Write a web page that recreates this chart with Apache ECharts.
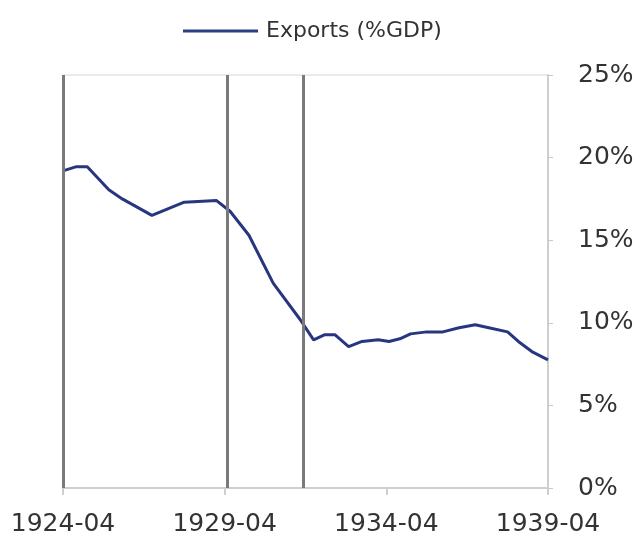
<!DOCTYPE html>
<html>
<head>
<meta charset="utf-8">
<script src="https://cdn.jsdelivr.net/npm/echarts@6/dist/echarts.min.js"></script>
<style>
  html, body { margin: 0; padding: 0; background: #fff; }
  #chart { width: 641px; height: 544px; }
</style>
</head>
<body>
<div id="chart"></div>
<script>
// months counted from the start of the axis
var startYear = 1924, startMonth = 4;
var dates = ["1924-04", "1924-09", "1925-01", "1925-09", "1926-02", "1927-01", "1928-01", "1929-01",
  "1929-06", "1930-01", "1930-10", "1931-08", "1932-01", "1932-05", "1932-09", "1933-02", "1933-07",
  "1934-01", "1934-05", "1934-09", "1935-01", "1935-07", "1936-01", "1936-07", "1937-01", "1937-06",
  "1938-01", "1938-05", "1938-10", "1939-04"];
var exportsPct = [19.2, 19.45, 19.45, 18.05, 17.5, 16.5, 17.3, 17.4,
  16.75, 15.3, 12.4, 10.2, 8.97, 9.27, 9.27, 8.56, 8.87,
  8.97, 8.87, 9.03, 9.33, 9.45, 9.45, 9.7, 9.88, 9.7,
  9.45, 8.87, 8.26, 7.76];
var markerDates = ["1924-04", "1929-05", "1931-09"];
var yTicks = [0, 5, 10, 15, 20, 25];

function toIndex(d) {
  var p = d.split("-");
  return (+p[0] - startYear) * 12 + (+p[1] - startMonth);
}
function toLabel(m) {
  var total = startMonth - 1 + m;
  var y = startYear + Math.floor(total / 12), mo = total % 12 + 1;
  return y + "-" + (mo < 10 ? "0" + mo : mo);
}

var chart = echarts.init(document.getElementById("chart"));
var font = "DejaVu Sans";
chart.setOption({
  animation: false,
  legend: {
    top: 15, left: 178,
    data: [{name: "Exports (%GDP)", icon: "rect"}],
    itemWidth: 75, itemHeight: 3, itemGap: 4,
    textStyle: {fontFamily: font, fontSize: 22, color: "#333", padding: [0, 0, 0, 3]}
  },
  grid: {left: 63, right: 93, top: 75, bottom: 56, show: true, borderColor: "#d6d6d6", borderWidth: 1},
  xAxis: {
    type: "value", min: 0, max: 180, interval: 60,
    axisLine: {onZero: false, lineStyle: {color: "#cfcfcf", width: 2}},
    axisTick: {show: true, length: 7, lineStyle: {color: "#cfcfcf", width: 2}},
    splitLine: {show: false},
    axisLabel: {fontFamily: font, fontSize: 25, color: "#333", margin: 24, formatter: toLabel}
  },
  yAxis: {
    type: "value", position: "right", min: yTicks[0], max: yTicks[yTicks.length - 1], interval: 5,
    axisLine: {show: true, onZero: false, lineStyle: {color: "#cfcfcf", width: 2}},
    axisTick: {show: true, length: 5, lineStyle: {color: "#c8c8c8", width: 1}},
    splitLine: {show: false},
    axisLabel: {fontFamily: font, fontSize: 25, color: "#333", margin: 30, formatter: "{value}%"}
  },
  series: [{
    name: "Exports (%GDP)", type: "line", showSymbol: false,
    color: "#2c3f80",
    lineStyle: {width: 3, color: "#28367f"},
    data: dates.map(function(d, i) { return [toIndex(d), exportsPct[i]] }),
    markLine: {
      silent: true, symbol: "none", label: {show: false},
      lineStyle: {color: "#7a7a7a", width: 3, type: "solid"},
      data: markerDates.map(function(d) { return {xAxis: toIndex(d)} })
    }
  }]
});
</script>
</body>
</html>
